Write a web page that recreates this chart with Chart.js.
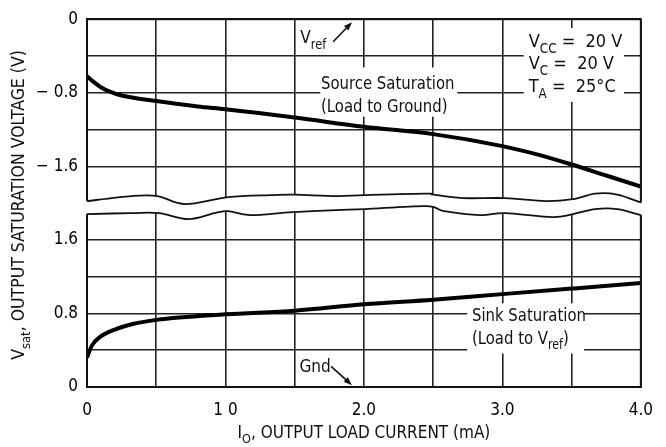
<!DOCTYPE html>
<html>
<head>
<meta charset="utf-8">
<title>Output saturation voltage vs output load current</title>
<script src="https://cdn.jsdelivr.net/npm/chart.js@4.4.1/dist/chart.umd.min.js"></script>
<style>
  html, body { margin: 0; padding: 0; background: #fff; }
  #wrap { width: 666px; height: 447px; }
</style>
</head>
<body>
<div id="wrap"><canvas id="satChart" width="666" height="447"></canvas></div>
<script>
const FONT = "'Liberation Sans Narrow', 'DejaVu Sans Condensed', 'Arial Narrow', sans-serif";
const INK = "#111";

// I_O (mA) and V_sat (V)
const sourceCurrent = [0, 0.05, 0.1, 0.16, 0.25, 0.5, 0.8, 1.0, 1.5, 2.0, 2.5, 3.0, 3.25, 3.5, 3.75, 4.0];
const sourceVsat = [-0.62, -0.685, -0.74, -0.785, -0.83, -0.89, -0.95, -0.98, -1.07, -1.17, -1.25, -1.38, -1.47, -1.58, -1.70, -1.82];

const sinkCurrent = [0, 0.035, 0.09, 0.21, 0.33, 0.5, 1.0, 1.5, 2.0, 2.5, 3.0, 3.5, 4.0];
const sinkVsat = [0.32, 0.45, 0.54, 0.63, 0.685, 0.73, 0.79, 0.83, 0.90, 0.95, 1.01, 1.07, 1.13];

const xTickValues = [0, 1, 2, 3, 4];
const xTickLabels = ["0", "1 0", "2.0", "3.0", "4.0"];
const topTickValues = [0, -0.8, -1.6];
const topTickLabels = ["0", "\u2212 0.8", "\u2212 1.6"];
const botTickValues = [0, 0.8, 1.6];
const botTickLabels = ["0", "0.8", "1.6"];

function pickLabel(values, labels) {
    return v => {
        const i = values.findIndex(t => Math.abs(t - v) < 1e-6);
        return i < 0 ? "" : labels[i];
    };
}

function gridColor(ctx) {
    return Math.abs(ctx.tick.value) > 1.9 ? "rgba(0,0,0,0)" : "#222";
}

// text with subscripts: parts = [[text, isSub], ...], k = horizontal squeeze
function richWidth(ctx, parts, size, k) {
    let w = 0;
    parts.forEach(([t, sub]) => {
        ctx.font = (sub ? size * 0.74 : size) + "px " + FONT;
        w += ctx.measureText(t).width;
    });
    return w * (k || 1);
}

function drawRich(ctx, parts, x, y, size, k) {
    ctx.save();
    ctx.translate(x, y);
    ctx.scale(k || 1, 1);
    ctx.textAlign = "left";
    ctx.textBaseline = "alphabetic";
    let cx = 0;
    parts.forEach(([t, sub]) => {
        ctx.font = (sub ? size * 0.74 : size) + "px " + FONT;
        ctx.fillText(t, cx, sub ? size * 0.32 : 0);
        cx += ctx.measureText(t).width;
    });
    ctx.restore();
}

function smoothPath(ctx, pts, move) {
    if (move) ctx.moveTo(pts[0][0], pts[0][1]);
    else ctx.lineTo(pts[0][0], pts[0][1]);
    for (let i = 0; i < pts.length - 1; i++) {
        const p0 = pts[i - 1] || pts[i], p1 = pts[i], p2 = pts[i + 1], p3 = pts[i + 2] || p2;
        ctx.bezierCurveTo(
            p1[0] + (p2[0] - p0[0]) / 6, p1[1] + (p2[1] - p0[1]) / 6,
            p2[0] - (p3[0] - p1[0]) / 6, p2[1] - (p3[1] - p1[1]) / 6,
            p2[0], p2[1]);
    }
}

function arrow(ctx, x1, y1, x2, y2) {
    const ang = Math.atan2(y2 - y1, x2 - x1);
    ctx.lineWidth = 1.6;
    ctx.beginPath();
    ctx.moveTo(x1, y1);
    ctx.lineTo(x2 - 5 * Math.cos(ang), y2 - 5 * Math.sin(ang));
    ctx.stroke();
    ctx.beginPath();
    ctx.moveTo(x2, y2);
    ctx.lineTo(x2 - 9 * Math.cos(ang - 0.35), y2 - 9 * Math.sin(ang - 0.35));
    ctx.lineTo(x2 - 9 * Math.cos(ang + 0.35), y2 - 9 * Math.sin(ang + 0.35));
    ctx.closePath();
    ctx.fill();
}

const decorPlugin = {
    id: "decor",
    afterDatasetsDraw(chart) {
        const { ctx, chartArea: a, scales } = chart;
        const sx = scales.x, yt = scales.yTop, yb = scales.yBot;
        const mid = yt.bottom;

        ctx.save();
        ctx.strokeStyle = INK;
        ctx.fillStyle = INK;
        ctx.lineWidth = 2;
        ctx.strokeRect(a.left, a.top, a.right - a.left, a.bottom - a.top);

        // wavy axis break (pixel offsets from the panel joint)
        const upperWave = [[0, -2], [0.32, -7], [0.51, -7], [0.71, 1], [1.02, -6], [1.33, -8], [1.5, -8.5], [1.8, -7],
            [2.01, -8], [2.45, -9.5], [2.5, -8.5], [2.71, -5], [3.02, -5], [3.31, -2], [3.51, -4], [3.67, -9.5], [3.83, -8.5], [4.0, -0.5]];
        const lowerWave = [[0, 11], [0.32, 10], [0.52, 10], [0.73, 16], [0.92, 10], [1.02, 8], [1.18, 12], [1.48, 9], [1.8, 7],
            [2.01, 6], [2.45, 3], [2.58, 8], [2.84, 12], [3.02, 10], [3.36, 14], [3.51, 11], [3.67, 6], [3.83, 6], [4.0, 12]];
        const up = upperWave.map(([v, d]) => [sx.getPixelForValue(v), mid + d]);
        const lo = lowerWave.map(([v, d]) => [sx.getPixelForValue(v), mid + d]);

        ctx.beginPath();
        ctx.moveTo(a.left - 4, up[0][1]);
        smoothPath(ctx, up, false);
        ctx.lineTo(a.right + 4, up[up.length - 1][1]);
        ctx.lineTo(a.right + 4, lo[lo.length - 1][1]);
        smoothPath(ctx, lo.slice().reverse(), false);
        ctx.lineTo(a.left - 4, lo[0][1]);
        ctx.closePath();
        ctx.fillStyle = "#fff";
        ctx.fill();
        ctx.fillStyle = INK;

        ctx.lineWidth = 1.8;
        ctx.beginPath(); smoothPath(ctx, up, true); ctx.stroke();
        ctx.beginPath(); smoothPath(ctx, lo, true); ctx.stroke();

        // white boxes behind the labels
        const box = (ys, x0, x1, y0, y1) => {
            const px0 = sx.getPixelForValue(x0), px1 = sx.getPixelForValue(x1);
            const py0 = ys.getPixelForValue(y0), py1 = ys.getPixelForValue(y1);
            ctx.fillStyle = "#fff";
            ctx.fillRect(px0, py0, px1 - px0, py1 - py0);
            ctx.fillStyle = INK;
        };
        box(yt, 1.685, 2.674, -0.525, -1.06);
        box(yt, 3.154, 3.878, -0.096, -0.9);
        box(yb, 2.746, 3.59, 0.91, 0.364);

        const at = (ys, xv, yv, parts, k) =>
            drawRich(ctx, parts, sx.getPixelForValue(xv), ys.getPixelForValue(yv), 18, k);

        at(yt, 1.54, -0.257, [["V", 0], ["ref", 1]], 0.95);
        arrow(ctx, sx.getPixelForValue(1.778), yt.getPixelForValue(-0.246), sx.getPixelForValue(1.914), yt.getPixelForValue(-0.032));

        at(yt, 1.69, -0.76, [["Source Saturation", 0]], 0.92);
        at(yt, 1.69, -1.006, [["(Load to Ground)", 0]], 0.92);

        at(yt, 3.19, -0.30, [["V", 0], ["CC", 1], [" =  20 V", 0]], 1);
        at(yt, 3.19, -0.546, [["V", 0], ["C", 1], [" =  20 V", 0]], 1);
        at(yt, 3.19, -0.79, [["T", 0], ["A", 1], [" =  25\u00B0C", 0]], 1);

        at(yb, 2.78, 0.717, [["Sink Saturation", 0]], 0.92);
        at(yb, 2.78, 0.471, [["(Load to V", 0], ["ref", 1], [")", 0]], 0.92);

        at(yb, 1.534, 0.16, [["Gnd", 0]], 0.95);
        arrow(ctx, sx.getPixelForValue(1.763), yb.getPixelForValue(0.225), sx.getPixelForValue(1.914), yb.getPixelForValue(0.02));

        // axis titles
        const xt = [["I", 0], ["O", 1], [", OUTPUT LOAD CURRENT (mA)", 0]];
        const xw = richWidth(ctx, xt, 17, 1);
        drawRich(ctx, xt, (a.left + a.right) / 2 - xw / 2, 438, 17, 1);

        const ytl = [["V", 0], ["sat", 1], [", OUTPUT SATURATION VOLTAGE (V)", 0]];
        const yw = richWidth(ctx, ytl, 17.5, 1);
        ctx.translate(24, 205);
        ctx.rotate(-Math.PI / 2);
        drawRich(ctx, ytl, -yw / 2, 0, 17.5, 1);
        ctx.restore();
    }
};

const yCommon = {
    type: "linear",
    position: "left",
    stack: "vsat",
    stackWeight: 1,
    border: { display: true, color: INK, width: 2 },
    grid: { color: gridColor, lineWidth: 1.6, drawTicks: false },
    afterFit: s => { s.width = 87; }
};

new Chart(document.getElementById("satChart"), {
    type: "line",
    data: {
        datasets: [
            {
                label: "Source Saturation",
                data: sourceCurrent.map((x, i) => ({ x, y: sourceVsat[i] })),
                yAxisID: "yTop",
                borderColor: "#000",
                borderWidth: 4,
                pointRadius: 0,
                cubicInterpolationMode: "monotone"
            },
            {
                label: "Sink Saturation",
                data: sinkCurrent.map((x, i) => ({ x, y: sinkVsat[i] })),
                yAxisID: "yBot",
                borderColor: "#000",
                borderWidth: 4,
                pointRadius: 0,
                cubicInterpolationMode: "monotone"
            }
        ]
    },
    options: {
        responsive: false,
        animation: false,
        devicePixelRatio: 1,
        layout: { padding: { top: 14, right: 21, left: 0, bottom: 0 } },
        plugins: { legend: { display: false }, tooltip: { enabled: false } },
        scales: {
            x: {
                type: "linear",
                min: 0,
                max: 4,
                border: { display: true, color: INK, width: 2 },
                grid: { color: "#222", lineWidth: 1.6, drawTicks: false },
                ticks: {
                    stepSize: 0.5,
                    autoSkip: false,
                    maxRotation: 0,
                    padding: 13,
                    color: "#000",
                    font: { family: FONT, size: 17 },
                    callback: pickLabel(xTickValues, xTickLabels)
                },
                afterFit: s => { s.height = 60; }
            },
            yBot: Object.assign({}, yCommon, {
                min: 0,
                max: 2.0,
                ticks: {
                    stepSize: 0.4,
                    autoSkip: false,
                    includeBounds: false,
                    padding: 9,
                    color: "#000",
                    font: { family: FONT, size: 17 },
                    callback: pickLabel(botTickValues, botTickLabels)
                }
            }),
            yTop: Object.assign({}, yCommon, {
                min: -2.0,
                max: 0,
                ticks: {
                    stepSize: 0.4,
                    autoSkip: false,
                    includeBounds: false,
                    padding: 9,
                    color: "#000",
                    font: { family: FONT, size: 17 },
                    callback: pickLabel(topTickValues, topTickLabels)
                }
            })
        }
    },
    plugins: [decorPlugin]
});
</script>
</body>
</html>
